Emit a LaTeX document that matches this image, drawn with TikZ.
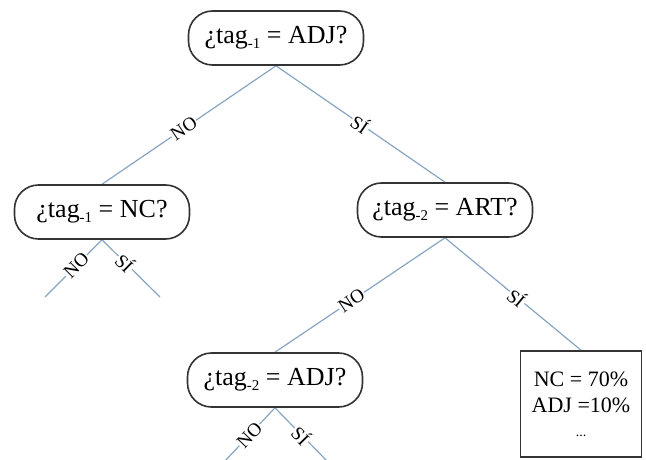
\documentclass[tikz,border=0pt]{standalone}
\usepackage{fontspec}
\setmainfont{Liberation Serif}
\usetikzlibrary{backgrounds}
\definecolor{edgeblue}{RGB}{135,165,195}
\newcommand{\tsub}[1]{\raisebox{-5pt}{\fontsize{15}{15}\selectfont #1}}
\tikzset{
  q/.style={draw=black!80, line width=1.6pt, rounded corners=24pt, minimum width=175pt, minimum height=54pt, inner sep=2pt, font=\fontsize{26}{29}\selectfont, fill=white},
  leaf/.style={draw=black!80, line width=1.6pt, minimum width=121pt, minimum height=106pt, align=center, font=\fontsize{22}{26}\selectfont, fill=white},
  edge/.style={draw=edgeblue, line width=1.2pt},
  lab/.style={sloped, fill=white, inner sep=1pt, font=\fontsize{19}{20}\selectfont}
}
\begin{document}
\begin{tikzpicture}[x=1pt,y=-1pt]
\useasboundingbox (0,0) rectangle (646,460);
\node[q] (top) at (276,38) {¿tag\tsub{-1} = ADJ?};
\node[q] (nc) at (102,212) {¿tag\tsub{-1} = NC?};
\node[q] (art) at (445,210) {¿tag\tsub{-2} = ART?};
\node[q] (adj) at (275,380) {¿tag\tsub{-2} = ADJ?};
\node[leaf] (lf) at (581,404) {NC = 70\%\\ADJ =10\%\\[-2pt]{\fontsize{14}{14}\selectfont ...}};
\coordinate (nca) at (45,297);
\coordinate (ncb) at (160,297);
\coordinate (adja) at (224,462);
\coordinate (adjb) at (328,462);
\begin{scope}[on background layer]
\draw[edge] (top.south) -- node[lab,pos=0.53]{NO} (nc.north);
\draw[edge] (top.south) -- node[lab,pos=0.5]{SÍ} (art.north);
\draw[edge] (art.south) -- node[lab,pos=0.55]{NO} (adj.north);
\draw[edge] (art.south) -- node[lab,pos=0.53]{SÍ} (lf.north);
\draw[edge] (nc.south) -- node[lab,pos=0.45]{NO} (nca);
\draw[edge] (nc.south) -- node[lab,pos=0.4]{SÍ} (ncb);
\draw[edge] (adj.south) -- node[lab,pos=0.5]{NO} (adja);
\draw[edge] (adj.south) -- node[lab,pos=0.5]{SÍ} (adjb);
\end{scope}
\end{tikzpicture}
\end{document}
